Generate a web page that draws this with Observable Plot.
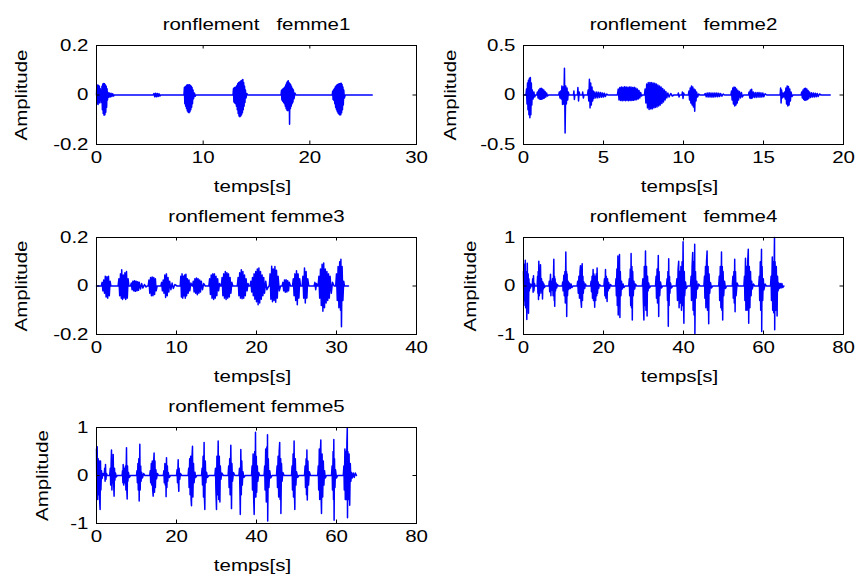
<!DOCTYPE html>
<html><head><meta charset="utf-8">
<script src="https://cdn.jsdelivr.net/npm/d3@7"></script>
<script src="https://cdn.jsdelivr.net/npm/@observablehq/plot@0.6"></script>
<style>
body{margin:0;background:#fff;}
#fig{position:relative;width:858px;height:575px;overflow:hidden;background:#fff;}
#fig svg{position:absolute;background:transparent;overflow:visible;}
</style></head><body><div id="fig"></div>
<script>
// ---- data: [time (s), amplitude] ----
const femme1 = [
[0,0],[0.03,0.036],[0.07,-0.035],[0.11,0.04],[0.15,-0.038],[0.19,0.038],[0.23,-0.03],[0.27,0.035],[0.31,-0.032],[0.35,0.025],[0.39,-0.02],[0.43,0.018],[0.47,-0.03],[0.51,0.035],[0.55,-0.06],[0.59,0.044],[0.63,-0.075],[0.67,0.046],[0.71,-0.082],[0.75,0.045],[0.79,-0.08],[0.83,0.04],[0.87,-0.07],[0.91,0.035],[0.95,-0.05],[0.99,0.025],[1.03,-0.02],[1.08,0.01],[1.14,-0.009],[1.2,0.008],[1.28,-0.008],[1.36,0.007],[1.44,-0.006],[1.52,0.005],[1.6,-0.004],[1.66,0],
[5.3,0],[5.38,0.006],[5.46,-0.007],[5.54,0.007],[5.62,-0.007],[5.7,0.006],[5.78,-0.006],[5.86,0.005],[5.94,-0.004],[6.0,0],
[8.2,0],[8.24,0.03],[8.28,-0.035],[8.32,0.033],[8.36,-0.045],[8.4,0.036],[8.44,-0.055],[8.48,0.04],[8.52,-0.065],[8.56,0.041],[8.6,-0.07],[8.64,0.04],[8.68,-0.072],[8.72,0.041],[8.76,-0.068],[8.8,0.038],[8.84,-0.06],[8.88,0.035],[8.92,-0.05],[8.96,0.03],[9.0,-0.035],[9.05,0.02],[9.1,-0.015],[9.18,0.008],[9.26,-0.005],[9.32,0],
[12.8,0],[12.84,0.025],[12.88,-0.028],[12.92,0.03],[12.96,-0.032],[13.0,0.03],[13.04,-0.035],[13.08,0.032],[13.12,-0.045],[13.16,0.038],[13.2,-0.06],[13.24,0.045],[13.28,-0.075],[13.32,0.05],[13.36,-0.085],[13.4,0.052],[13.44,-0.088],[13.48,0.055],[13.52,-0.085],[13.56,0.058],[13.6,-0.08],[13.64,0.06],[13.68,-0.072],[13.72,0.063],[13.76,-0.06],[13.8,0.05],[13.84,-0.045],[13.88,0.035],[13.92,-0.03],[13.96,0.02],[14.02,-0.012],[14.1,0.006],[14.18,0],
[17.3,0],[17.34,0.018],[17.38,-0.02],[17.42,0.022],[17.46,-0.025],[17.5,0.025],[17.54,-0.03],[17.58,0.028],[17.62,-0.035],[17.66,0.032],[17.7,-0.045],[17.74,0.04],[17.78,-0.055],[17.82,0.048],[17.86,-0.062],[17.9,0.055],[17.94,-0.064],[17.98,0.058],[18.02,-0.06],[18.06,0.05],[18.1,-0.118],[18.14,0.045],[18.18,-0.055],[18.22,0.04],[18.26,-0.045],[18.3,0.032],[18.34,-0.035],[18.38,0.025],[18.42,-0.028],[18.46,0.02],[18.52,-0.015],[18.6,0.008],[18.7,0],
[22.1,0],[22.14,0.015],[22.18,-0.018],[22.22,0.02],[22.26,-0.022],[22.3,0.025],[22.34,-0.035],[22.38,0.032],[22.42,-0.05],[22.46,0.036],[22.5,-0.06],[22.54,0.04],[22.58,-0.068],[22.62,0.042],[22.66,-0.074],[22.7,0.044],[22.74,-0.078],[22.78,0.045],[22.82,-0.081],[22.86,0.046],[22.9,-0.08],[22.94,0.047],[22.98,-0.072],[23.02,0.042],[23.06,-0.06],[23.1,0.032],[23.14,-0.04],[23.18,0.02],[23.24,-0.012],[23.32,0],
[25.85,0]
];
const femme2 = [
[0,0],[0.15,0],[0.19,0.06],[0.22,-0.09],[0.25,0.12],[0.28,-0.15],[0.31,0.15],[0.34,-0.2],[0.37,0.17],[0.4,-0.23],[0.43,0.177],[0.46,-0.2],[0.49,0.12],[0.52,-0.1],[0.55,0.05],[0.6,-0.04],[0.65,0.03],[0.7,-0.02],[0.75,0],
[0.83,0],[0.87,0.03],[0.91,-0.03],[0.95,0.05],[0.99,-0.04],[1.03,0.065],[1.07,-0.044],[1.11,0.068],[1.15,-0.042],[1.19,0.06],[1.23,-0.035],[1.27,0.05],[1.31,-0.03],[1.35,0.035],[1.39,-0.02],[1.44,0.02],[1.5,-0.01],[1.56,0],
[2.2,0],[2.24,0.03],[2.28,-0.03],[2.32,0.04],[2.36,-0.04],[2.4,0.09],[2.44,-0.095],[2.48,0.08],[2.52,-0.09],[2.56,0.27],[2.6,-0.384],[2.64,0.09],[2.68,-0.09],[2.72,0.07],[2.76,-0.05],[2.8,0.03],[2.85,0],
[3.12,0],[3.15,0.04],[3.18,-0.045],[3.21,0],[3.37,0],[3.4,0.075],[3.44,-0.06],[3.48,0.03],[3.52,0],[3.67,0],[3.7,0.03],[3.74,-0.03],[3.78,0],
[4.0,0],[4.04,0.05],[4.08,-0.06],[4.12,0.16],[4.16,-0.13],[4.2,0.12],[4.24,-0.1],[4.28,0.08],[4.32,-0.06],[4.36,0.04],[4.4,-0.035],[4.46,0.03],[4.52,-0.03],[4.58,0.03],[4.64,-0.028],[4.7,0.028],[4.76,-0.025],[4.82,0.025],[4.88,-0.022],[4.94,0.02],[5.0,-0.02],[5.06,0.018],[5.12,-0.015],[5.2,0.01],[5.27,0],
[5.87,0],[5.92,0.06],[5.97,-0.05],[6.02,0.075],[6.07,-0.056],[6.12,0.082],[6.17,-0.058],[6.22,0.078],[6.27,-0.055],[6.32,0.084],[6.37,-0.058],[6.42,0.08],[6.47,-0.056],[6.52,0.078],[6.57,-0.058],[6.62,0.082],[6.67,-0.055],[6.72,0.08],[6.77,-0.056],[6.82,0.076],[6.87,-0.054],[6.92,0.078],[6.97,-0.05],[7.02,0.07],[7.07,-0.048],[7.12,0.06],[7.17,-0.04],[7.22,0.045],[7.27,-0.03],[7.32,0.025],[7.38,-0.01],[7.44,0],
[7.56,0],[7.6,0.06],[7.65,-0.08],[7.7,0.11],[7.75,-0.13],[7.8,0.125],[7.85,-0.146],[7.9,0.126],[7.95,-0.14],[8.0,0.125],[8.05,-0.14],[8.1,0.12],[8.15,-0.13],[8.2,0.118],[8.25,-0.125],[8.3,0.11],[8.35,-0.12],[8.4,0.1],[8.45,-0.11],[8.5,0.09],[8.55,-0.1],[8.6,0.08],[8.65,-0.085],[8.7,0.065],[8.75,-0.07],[8.8,0.05],[8.85,-0.05],[8.9,0.035],[8.96,-0.03],[9.02,0.02],[9.1,-0.02],[9.2,0.015],[9.3,-0.01],[9.4,0],
[9.65,0],[9.68,0.02],[9.72,-0.02],[9.76,0],[9.9,0],[9.93,0.03],[9.97,-0.035],[10.01,0.02],[10.05,0],
[10.3,0],[10.34,0.04],[10.38,-0.05],[10.42,0.07],[10.46,-0.08],[10.5,0.092],[10.54,-0.1],[10.58,0.08],[10.62,-0.12],[10.66,0.06],[10.7,-0.163],[10.74,0.05],[10.78,-0.06],[10.82,0.03],[10.88,-0.02],[10.95,0.01],[11.02,0],
[11.3,0],[11.36,0.015],[11.42,-0.018],[11.48,0.02],[11.54,-0.02],[11.6,0.022],[11.66,-0.02],[11.72,0.02],[11.78,-0.022],[11.84,0.02],[11.9,-0.02],[11.96,0.02],[12.02,-0.018],[12.08,0.02],[12.14,-0.018],[12.2,0.018],[12.26,-0.016],[12.32,0.015],[12.4,-0.012],[12.48,0.01],[12.56,0],
[12.96,0],[13.0,0.04],[13.04,-0.05],[13.08,0.07],[13.12,-0.09],[13.16,0.08],[13.2,-0.11],[13.24,0.075],[13.28,-0.1],[13.32,0.06],[13.36,-0.08],[13.4,0.045],[13.44,-0.05],[13.5,0.035],[13.56,-0.03],[13.62,0.025],[13.68,-0.02],[13.75,0],
[14.06,0],[14.1,0.03],[14.14,-0.03],[14.18,0.05],[14.22,-0.035],[14.26,0.058],[14.3,-0.03],[14.36,0.03],[14.42,-0.025],[14.48,0.025],[14.54,-0.025],[14.6,0.025],[14.66,-0.022],[14.72,0.025],[14.78,-0.022],[14.84,0.022],[14.9,-0.02],[14.96,0.02],[15.02,-0.018],[15.1,0.012],[15.2,0],
[16.04,0],[16.07,0.07],[16.1,-0.08],[16.13,0.05],[16.17,-0.03],[16.22,0.02],[16.27,-0.02],[16.32,0.03],[16.36,-0.04],[16.4,0.07],[16.44,-0.09],[16.48,0.092],[16.52,-0.11],[16.56,0.085],[16.6,-0.1],[16.64,0.06],[16.68,-0.06],[16.72,0.03],[16.78,-0.015],[16.84,0],
[17.35,0],[17.39,0.03],[17.43,-0.03],[17.47,0.05],[17.51,-0.045],[17.55,0.065],[17.59,-0.054],[17.63,0.068],[17.67,-0.05],[17.71,0.06],[17.75,-0.045],[17.79,0.045],[17.83,-0.035],[17.88,0.03],[17.94,-0.025],[18.0,0.022],[18.06,-0.02],[18.12,0.02],[18.18,-0.02],[18.24,0.018],[18.3,-0.018],[18.36,0.016],[18.42,-0.015],[18.5,0.01],[18.6,0],
[19.17,0]
];
const femme3 = [
[0,0],[0.6,0],[0.7,0.015],[0.8,-0.02],[0.9,0.025],[1.0,-0.03],[1.1,0.04],[1.2,-0.045],[1.3,0.038],[1.4,-0.05],[1.5,0.04],[1.6,-0.04],[1.7,0.02],[1.8,0],
[2.7,0],[2.8,0.03],[2.9,-0.04],[3.0,0.05],[3.1,-0.05],[3.15,0.067],[3.25,-0.056],[3.35,0.045],[3.45,-0.05],[3.55,0.055],[3.65,-0.056],[3.75,0.06],[3.85,-0.05],[3.95,0.03],[4.05,0],
[4.25,0],[4.35,0.012],[4.45,-0.015],[4.55,0.02],[4.65,-0.02],[4.75,0.022],[4.85,-0.022],[4.95,0.02],[5.05,-0.02],[5.15,0.018],[5.25,-0.018],[5.35,0.015],[5.5,-0.012],[5.65,0.01],[5.8,-0.008],[6.0,0.006],[6.2,-0.004],[6.33,0],
[6.46,0],[6.56,0.025],[6.66,-0.03],[6.76,0.035],[6.86,-0.04],[6.96,0.037],[7.06,-0.04],[7.16,0.035],[7.26,-0.035],[7.36,0.03],[7.46,-0.02],[7.58,0],
[8.04,0],[8.14,0.015],[8.24,-0.02],[8.34,0.025],[8.44,-0.03],[8.54,0.045],[8.64,-0.047],[8.74,0.05],[8.84,-0.04],[8.94,0.035],[9.04,-0.025],[9.14,0.02],[9.3,-0.015],[9.45,0.012],[9.6,-0.01],[9.8,0.006],[10.08,0],
[10.46,0],[10.54,0.04],[10.62,-0.045],[10.7,0.05],[10.78,-0.05],[10.86,0.04],[10.94,-0.04],[11.02,0.045],[11.1,-0.05],[11.18,0.048],[11.26,-0.04],[11.36,0.03],[11.46,-0.03],[11.56,0.025],[11.66,-0.02],[11.8,0.012],[11.96,0],
[12.0,0],[12.1,0.02],[12.2,-0.025],[12.3,0.03],[12.4,-0.03],[12.5,0.033],[12.6,-0.036],[12.7,0.03],[12.8,-0.03],[12.9,0.025],[13.0,-0.025],[13.1,0.02],[13.25,-0.015],[13.4,0.01],[13.6,0],
[14.04,0],[14.14,0.03],[14.24,-0.035],[14.34,0.045],[14.44,-0.05],[14.54,0.05],[14.64,-0.056],[14.74,0.05],[14.84,-0.05],[14.94,0.04],[15.04,-0.04],[15.14,0.03],[15.26,-0.02],[15.38,0.01],[15.5,0],
[15.6,0],[15.7,0.035],[15.8,-0.04],[15.9,0.05],[16.0,-0.05],[16.1,0.06],[16.2,-0.056],[16.3,0.055],[16.4,-0.05],[16.5,0.05],[16.6,-0.045],[16.7,0.035],[16.8,-0.03],[16.92,0.015],[17.04,0],
[17.6,0],[17.7,0.035],[17.8,-0.04],[17.9,0.055],[18.0,-0.05],[18.1,0.067],[18.2,-0.053],[18.3,0.06],[18.4,-0.05],[18.5,0.045],[18.6,-0.04],[18.7,0.03],[18.82,-0.02],[18.94,0.01],[19.04,0],
[19.2,0],[19.3,0.02],[19.4,-0.025],[19.5,0.035],[19.6,-0.04],[19.7,0.05],[19.8,-0.055],[19.9,0.06],[20.0,-0.065],[20.1,0.07],[20.2,-0.077],[20.3,0.074],[20.4,-0.07],[20.5,0.06],[20.6,-0.055],[20.7,0.045],[20.8,-0.04],[20.9,0.035],[21.0,-0.03],[21.15,0.02],[21.3,-0.015],[21.54,0],
[21.6,0],[21.7,0.05],[21.8,-0.055],[21.9,0.081],[22.0,-0.065],[22.1,0.07],[22.2,-0.06],[22.3,0.08],[22.4,-0.067],[22.5,0.065],[22.6,-0.05],[22.7,0.04],[22.85,-0.02],[23.0,0],
[23.2,0],[23.3,0.015],[23.4,-0.02],[23.5,0.025],[23.6,-0.026],[23.7,0.026],[23.8,-0.025],[23.9,0.022],[24.0,-0.02],[24.1,0.015],[24.25,0],
[24.5,0],[24.6,0.03],[24.7,-0.04],[24.8,0.05],[24.9,-0.06],[25.0,0.063],[25.1,-0.077],[25.2,0.05],[25.3,-0.05],[25.4,0.03],[25.5,0],
[25.7,0],[25.8,0.04],[25.9,-0.05],[26.0,0.074],[26.1,-0.07],[26.2,0.06],[26.3,-0.05],[26.4,0.03],[26.54,0],
[27.2,0],[27.3,0.015],[27.4,-0.015],[27.5,0.01],[27.6,0],
[27.7,0],[27.8,0.04],[27.9,-0.05],[28.0,0.07],[28.1,-0.08],[28.2,0.09],[28.3,-0.104],[28.4,0.095],[28.5,-0.09],[28.6,0.07],[28.7,-0.07],[28.8,0.06],[28.9,-0.06],[29.0,0.05],[29.1,-0.05],[29.2,0.04],[29.35,-0.03],[29.5,0.015],[29.7,0],
[29.9,0],[30.0,0.05],[30.1,-0.06],[30.2,0.08],[30.3,-0.09],[30.4,0.1],[30.5,-0.1],[30.55,0.11],[30.62,-0.168],[30.7,0.08],[30.8,-0.06],[30.9,0.02],[31.0,0],
[31.5,0]
];
const femme4 = [
[0,0.3],[0.1,-0.4],[0.2,0.45],[0.33,-0.3],[0.45,0.53],[0.55,-0.45],[0.65,0.3],[0.83,-0.69],[0.95,0.47],[1.05,-0.4],[1.17,0.25],[1.25,-0.56],[1.35,0.15],[1.45,-0.1],[1.6,0.05],[1.75,-0.04],[1.9,0.03],[2.05,0],
[2.17,0],[2.3,0.15],[2.4,-0.13],[2.5,0.21],[2.6,-0.1],[2.75,0.05],[2.9,0],
[3.4,0],[3.52,0.2],[3.6,-0.15],[3.67,0.3],[3.75,-0.28],[3.83,0.51],[3.95,-0.2],[4.05,0.3],[4.15,-0.15],[4.25,0.44],[4.35,-0.1],[4.5,0.15],[4.6,-0.15],[4.67,0.1],[4.75,-0.27],[4.85,0.08],[4.95,-0.06],[5.1,0.04],[5.25,-0.03],[5.4,0],
[6.33,0],[6.45,0.1],[6.55,-0.12],[6.75,0.24],[6.85,-0.2],[6.95,0.1],[7.1,-0.08],[7.25,0.15],[7.4,-0.2],[7.58,0.55],[7.68,-0.3],[7.75,0.2],[7.8,-0.42],[7.9,0.15],[8.0,-0.1],[8.15,0.06],[8.3,-0.04],[8.5,0.03],[8.7,0],
[9.67,0],[9.8,0.08],[9.9,-0.1],[10.08,0.22],[10.2,-0.2],[10.35,0.3],[10.45,-0.35],[10.58,0.7],[10.68,-0.3],[10.75,0.3],[10.8,-0.63],[10.9,0.25],[11.0,-0.2],[11.15,0.1],[11.3,-0.07],[11.5,0.06],[11.7,-0.05],[11.9,0.04],[12.1,-0.03],[12.4,0],
[13.4,0],[13.55,0.1],[13.7,-0.15],[13.85,0.2],[14.0,-0.25],[14.12,0.3],[14.25,0.42],[14.35,-0.3],[14.5,-0.44],[14.58,0.3],[14.67,0.46],[14.75,-0.3],[14.85,0.2],[14.95,-0.15],[15.1,0.08],[15.3,-0.05],[15.5,0.04],[15.7,0],
[16.75,0],[16.9,0.1],[17.0,-0.12],[17.15,0.2],[17.25,-0.25],[17.4,0.34],[17.5,-0.3],[17.6,0.25],[17.8,-0.44],[17.9,0.2],[18.05,-0.3],[18.2,0.25],[18.3,-0.2],[18.4,0.37],[18.5,-0.15],[18.65,0.08],[18.8,-0.05],[19.0,0.03],[19.3,0],
[20.1,0],[20.25,0.15],[20.35,-0.2],[20.5,0.34],[20.6,-0.25],[20.7,0.2],[20.9,-0.32],[21.0,0.15],[21.15,-0.1],[21.3,0.07],[21.5,-0.05],[21.75,0.03],[22.0,0],
[23.0,0],[23.12,0.15],[23.22,-0.2],[23.35,0.35],[23.45,-0.4],[23.6,0.62],[23.68,-0.6],[23.8,0.4],[23.9,-0.35],[24.0,0.65],[24.1,-0.65],[24.2,0.3],[24.35,-0.2],[24.5,0.1],[24.7,-0.06],[24.9,0.04],[25.1,-0.03],[25.4,0],
[26.3,0],[26.45,0.15],[26.55,-0.2],[26.7,0.35],[26.8,-0.4],[26.9,0.67],[27.0,-0.45],[27.1,0.4],[27.2,-0.7],[27.3,0.3],[27.45,-0.2],[27.6,0.1],[27.8,-0.06],[28.0,0.04],[28.3,0],
[29.7,0],[29.85,0.15],[29.95,-0.3],[30.1,-0.7],[30.2,0.4],[30.35,-0.4],[30.5,0.72],[30.6,-0.5],[30.75,0.4],[30.9,-0.62],[31.0,0.2],[31.15,-0.1],[31.3,0.06],[31.5,-0.04],[31.8,0],
[33.0,0],[33.15,0.2],[33.25,-0.25],[33.4,0.35],[33.5,-0.35],[33.7,0.63],[33.8,-0.63],[33.9,0.3],[34.05,-0.2],[34.25,0.08],[34.5,-0.04],[34.8,0],
[35.75,0],[35.9,0.15],[36.0,-0.3],[36.1,0.3],[36.2,-0.83],[36.3,0.56],[36.4,-0.4],[36.5,0.2],[36.6,-0.15],[36.75,0.06],[37.0,-0.04],[37.3,0],
[38.2,0],[38.35,0.15],[38.5,-0.3],[38.65,0.35],[38.8,0.51],[38.9,-0.45],[39.05,0.3],[39.2,-0.35],[39.35,0.4],[39.5,-0.5],[39.65,0.5],[39.75,-0.4],[39.9,0.91],[40.0,-0.3],[40.1,-0.77],[40.2,0.3],[40.3,-0.2],[40.5,0.08],[40.7,-0.05],[41.0,0],
[41.75,0],[41.9,0.2],[42.0,-0.3],[42.15,0.4],[42.3,0.69],[42.4,-0.5],[42.55,0.5],[42.65,-0.6],[42.8,0.86],[42.85,-0.98],[43.0,0.3],[43.15,-0.25],[43.3,0.1],[43.5,-0.06],[43.8,0.04],[44.1,0],
[45.1,0],[45.25,0.2],[45.35,-0.25],[45.5,0.4],[45.6,-0.45],[45.75,0.5],[45.9,0.72],[46.0,-0.5],[46.15,0.4],[46.3,-0.78],[46.4,0.25],[46.55,-0.15],[46.75,0.07],[47.0,-0.04],[47.3,0],
[48.8,0],[48.95,0.2],[49.05,-0.3],[49.2,0.4],[49.35,-0.45],[49.5,0.7],[49.6,-0.5],[49.7,0.4],[49.8,-0.7],[49.9,0.3],[50.05,-0.2],[50.25,0.1],[50.5,-0.05],[50.8,0],
[52.2,0],[52.35,0.2],[52.45,-0.25],[52.6,0.3],[52.7,-0.35],[52.8,0.55],[52.9,-0.53],[53.0,0.3],[53.15,-0.2],[53.4,0.06],[53.7,0],
[55.1,0],[55.25,0.2],[55.35,-0.3],[55.5,0.57],[55.6,-0.5],[55.75,0.4],[55.9,-0.5],[56.05,0.5],[56.2,0.76],[56.3,-0.77],[56.45,0.4],[56.6,-0.45],[56.75,0.3],[56.9,-0.2],[57.05,0.1],[57.2,-0.06],[57.5,0.04],[57.8,0],
[58.8,0],[58.95,0.2],[59.05,-0.3],[59.2,0.5],[59.3,-0.5],[59.5,0.76],[59.55,-0.94],[59.65,0.4],[59.8,-0.3],[59.95,0.15],[60.1,-0.08],[60.4,0.04],[60.7,0],
[61.75,0],[61.9,0.2],[62.0,-0.3],[62.2,0.6],[62.3,-0.5],[62.45,0.5],[62.55,-0.55],[62.7,0.7],[62.75,1.0],[62.8,-0.9],[62.9,0.5],[63.05,-0.5],[63.2,0.4],[63.4,-0.62],[63.5,0.2],[63.65,-0.1],[63.8,0.06],[64.0,-0.05],[64.2,0.05],[64.4,-0.04],[64.6,0.05],[64.8,-0.03],[65.1,0]
];
const femme5 = [
[0,0.55],[0.08,-0.3],[0.17,0.6],[0.3,-0.5],[0.42,0.35],[0.55,-0.4],[0.67,0.3],[0.8,-0.55],[0.9,-0.71],[1.0,0.3],[1.1,-0.3],[1.25,0.1],[1.4,-0.06],[1.6,0.04],[1.8,0],
[1.9,0],[2.05,0.15],[2.15,-0.12],[2.25,0.23],[2.35,-0.08],[2.5,0.04],[2.65,0],
[3.3,0],[3.45,0.15],[3.55,-0.2],[3.67,0.3],[3.75,0.53],[3.85,-0.3],[4.0,0.2],[4.1,-0.15],[4.17,0.44],[4.3,-0.2],[4.4,-0.43],[4.5,0.15],[4.6,-0.1],[4.75,0.05],[4.95,-0.03],[5.2,0],
[6.4,0],[6.5,0.1],[6.6,-0.15],[6.67,0.23],[6.8,-0.2],[6.95,0.15],[7.1,-0.15],[7.25,0.2],[7.35,-0.3],[7.5,0.58],[7.6,-0.35],[7.67,-0.49],[7.75,0.2],[7.85,-0.12],[8.0,0.06],[8.2,-0.04],[8.5,0],
[10.0,0],[10.12,0.1],[10.22,-0.15],[10.35,0.25],[10.45,-0.3],[10.58,0.35],[10.67,-0.53],[10.83,0.65],[10.92,-0.3],[11.05,0.2],[11.15,-0.12],[11.3,0.06],[11.5,-0.05],[11.8,0.04],[12.1,0],
[13.3,0],[13.45,0.1],[13.55,-0.15],[13.7,0.25],[13.8,-0.2],[13.95,0.3],[14.05,-0.3],[14.17,-0.43],[14.3,0.3],[14.4,0.47],[14.5,-0.35],[14.62,0.3],[14.72,-0.25],[14.85,0.12],[15.0,-0.07],[15.25,0.04],[15.5,0],
[16.7,0],[16.85,0.1],[16.95,-0.15],[17.1,0.25],[17.2,-0.2],[17.3,0.2],[17.4,-0.44],[17.5,0.37],[17.6,-0.25],[17.72,0.2],[17.82,-0.12],[17.95,0.06],[18.2,-0.04],[18.5,0],
[20.0,0],[20.15,0.12],[20.25,-0.15],[20.42,0.33],[20.5,-0.2],[20.58,-0.33],[20.65,0.15],[20.8,-0.08],[21.0,0.04],[21.3,0],
[22.9,0],[23.05,0.15],[23.15,-0.25],[23.3,0.35],[23.4,-0.4],[23.55,0.4],[23.65,-0.5],[23.75,-0.63],[23.85,0.35],[24.0,0.61],[24.1,-0.45],[24.25,0.25],[24.4,-0.15],[24.6,0.07],[24.8,-0.04],[25.1,0],
[26.25,0],[26.4,0.15],[26.5,-0.2],[26.65,0.4],[26.75,-0.45],[26.9,0.69],[27.0,-0.5],[27.08,-0.71],[27.2,0.3],[27.35,-0.15],[27.5,0.07],[27.75,-0.04],[28.1,0],
[29.6,0],[29.75,0.15],[29.85,-0.3],[30.0,-0.71],[30.1,0.4],[30.25,-0.4],[30.42,0.72],[30.55,-0.5],[30.7,0.4],[30.85,-0.55],[30.95,0.2],[31.1,-0.08],[31.35,0.05],[31.7,0],
[32.9,0],[33.05,0.2],[33.15,-0.25],[33.3,0.35],[33.4,-0.4],[33.58,0.63],[33.75,-0.69],[33.85,0.25],[34.0,-0.12],[34.25,0.06],[34.6,0],
[35.6,0],[35.75,0.15],[35.85,-0.3],[35.95,-0.81],[36.08,0.54],[36.2,-0.4],[36.32,0.3],[36.45,-0.2],[36.6,0.08],[36.85,-0.04],[37.2,0],
[38.75,0],[38.9,0.2],[39.0,-0.3],[39.15,0.45],[39.3,-0.5],[39.42,-0.81],[39.55,0.5],[39.65,-0.45],[39.75,0.9],[39.85,-0.45],[39.95,0.4],[40.05,-0.35],[40.2,0.2],[40.35,-0.12],[40.55,0.06],[40.8,0],
[41.9,0],[42.05,0.2],[42.15,-0.3],[42.3,0.55],[42.45,-0.55],[42.6,0.6],[42.7,-0.5],[42.75,0.85],[42.8,-0.95],[42.95,0.35],[43.1,-0.25],[43.3,0.1],[43.55,-0.05],[43.9,0],
[45.0,0],[45.15,0.2],[45.25,-0.25],[45.4,0.4],[45.55,-0.45],[45.67,0.5],[45.8,0.69],[45.9,-0.5],[46.05,0.35],[46.1,-0.79],[46.25,0.25],[46.4,-0.12],[46.6,0.06],[46.9,0],
[48.75,0],[48.9,0.2],[49.0,-0.3],[49.15,0.45],[49.25,-0.45],[49.4,0.72],[49.5,-0.4],[49.58,-0.71],[49.7,0.35],[49.85,-0.2],[50.0,0.08],[50.3,-0.04],[50.6,0],
[52.0,0],[52.15,0.2],[52.25,-0.25],[52.4,0.35],[52.5,-0.4],[52.6,0.53],[52.7,-0.51],[52.85,0.3],[53.0,-0.2],[53.2,0.08],[53.5,0],
[55.3,0],[55.45,0.2],[55.55,-0.3],[55.7,0.55],[55.8,-0.5],[55.95,0.45],[56.08,0.74],[56.17,-0.5],[56.25,-0.79],[56.4,0.45],[56.55,-0.45],[56.7,0.3],[56.85,-0.2],[57.0,0.1],[57.2,-0.05],[57.5,0],
[58.75,0],[58.9,0.2],[59.0,-0.3],[59.15,0.5],[59.25,-0.5],[59.33,0.75],[59.4,-0.93],[59.5,0.35],[59.62,-0.25],[59.75,0.12],[60.0,-0.05],[60.3,0],
[61.7,0],[61.85,0.2],[61.95,-0.3],[62.1,0.55],[62.2,-0.5],[62.35,0.5],[62.45,-0.5],[62.6,0.7],[62.7,0.99],[62.75,-0.88],[62.85,0.5],[63.0,-0.5],[63.15,0.45],[63.3,-0.62],[63.45,0.25],[63.6,-0.12],[63.75,0.06],[63.95,-0.05],[64.2,0.05],[64.45,-0.04],[64.7,0.05],[65.0,0]
];
const series = [femme1, femme2, femme3, femme4, femme5];
const titles = ["ronflement\u00a0\u00a0 femme1", "ronflement\u00a0\u00a0 femme2", "ronflement femme3", "ronflement\u00a0\u00a0 femme4", "ronflement femme5"];
const xDomains = [[0, 30], [0, 20], [0, 40], [0, 80], [0, 80]];
const yDomains = [[-0.2, 0.2], [-0.5, 0.5], [-0.2, 0.2], [-1, 1], [-1, 1]];
const xTicks = [[0, 10, 20, 30], [0, 5, 10, 15, 20], [0, 10, 20, 30, 40], [0, 20, 40, 60, 80], [0, 20, 40, 60, 80]];
const yTicks = [[-0.2, 0, 0.2], [-0.5, 0, 0.5], [-0.2, 0, 0.2], [-1, 0, 1], [-1, 0, 1]];
const xLabel = "temps[s]";
const yLabel = "Amplitude";

// ---- layout ----
const frames = [
  {left: 96, top: 45, h: 99, ylab: -75},
  {left: 523, top: 45, h: 99, ylab: -73},
  {left: 96, top: 237, h: 97, ylab: -75},
  {left: 523, top: 237, h: 97, ylab: -53},
  {left: 96, top: 427, h: 96, ylab: -54}
];
const ML = 96, MR = 12, MT = 45, MB = 52, FW = 320, TK = 3.5, STRETCH = 1.28;
const FONT = "'Liberation Sans', Arial, Helvetica, sans-serif";
const fig = document.getElementById("fig");

function panel(i) {
  const f = frames[i];
  const W = ML + FW + MR, H = MT + f.h + MB;
  const fmt = d => String(d);
  const svg = Plot.plot({
    width: W, height: H,
    marginLeft: ML, marginRight: MR, marginTop: MT, marginBottom: MB,
    style: {background: "transparent", fontFamily: FONT, fontSize: "16px", fontWeight: "normal", color: "#000", overflow: "visible"},
    x: {domain: xDomains[i]},
    y: {domain: yDomains[i]},
    marks: [
      Plot.line(series[i], {x: d => d[0], y: d => d[1], stroke: "#0000ff", strokeWidth: 1.5}),
      Plot.ruleX(xTicks[i], {x: d => d, insetTop: f.h - TK, stroke: "#000"}),
      Plot.ruleX(xTicks[i], {x: d => d, insetBottom: f.h - TK, stroke: "#000"}),
      Plot.ruleY(yTicks[i], {y: d => d, insetRight: FW - TK, stroke: "#000"}),
      Plot.ruleY(yTicks[i], {y: d => d, insetLeft: FW - TK, stroke: "#000"}),
      Plot.frame({stroke: "#000"}),
      Plot.axisX({ticks: xTicks[i], tickSize: 0, tickPadding: 7, label: null, tickFormat: fmt, fontSize: 16, fill: "#000"}),
      Plot.axisY({ticks: yTicks[i], tickSize: 0, tickPadding: 8, label: null, tickFormat: fmt, fontSize: 16, fill: "#000"}),
      Plot.text([titles[i]], {text: d => d, frameAnchor: "top", dy: -16, lineAnchor: "bottom", textAnchor: "middle", fontSize: 16, fill: "#000"}),
      Plot.text([xLabel], {text: d => d, frameAnchor: "bottom", dy: 42, dx: -4, lineAnchor: "middle", textAnchor: "middle", fontSize: 16, fill: "#000"}),
      Plot.text([yLabel], {text: d => d, frameAnchor: "left", dx: f.ylab, rotate: -90, lineAnchor: "middle", textAnchor: "middle", fontSize: 16, fill: "#000"})
    ]
  });
  // widen glyphs along their reading direction, as in the reference rendering
  svg.querySelectorAll("text").forEach(t => {
    const x = parseFloat(t.getAttribute("x")) || 0;
    const tr = t.getAttribute("transform") || "";
    t.setAttribute("transform", `${tr} translate(${x},0) scale(${STRETCH},1) translate(${-x},0)`);
  });
  svg.style.left = (f.left - ML) + "px";
  svg.style.top = (f.top - MT) + "px";
  fig.appendChild(svg);
}
for (let i = 0; i < 5; i++) panel(i);
</script>
</body></html>
